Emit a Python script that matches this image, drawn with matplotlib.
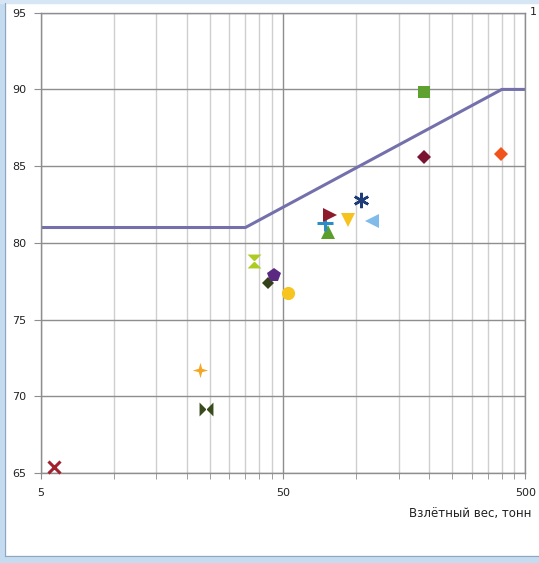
import matplotlib
matplotlib.use("Agg")
import matplotlib.pyplot as plt
import matplotlib.patches as mpatches
from matplotlib.ticker import FixedLocator, NullFormatter, FixedFormatter
import numpy as np

# ---- data ----
weights = [5.7, 22.7, 24.1, 38.0, 43.4, 46.0, 52.4, 76.8, 74.6, 78.2, 92.8, 105.0, 116.6, 191.0, 191.0, 397.0]
noise   = [65.4, 71.7, 69.2, 78.8, 77.4, 77.9, 76.7, 80.7, 81.3, 81.8, 81.5, 82.8, 81.4, 89.8, 85.6, 85.8]

limit_w = [5, 35, 400, 500]
limit_y = [81.0, 81.0, 90.0, 90.0]

x_major = [5, 50, 500]
x_major_labels = ["5", "50", "500"]
x_minor = [10, 15, 20, 25, 30, 35, 40, 45, 100, 150, 200, 250, 300, 350, 400, 450]
y_ticks = [65, 70, 75, 80, 85, 90, 95]
x_title = "Взлётный вес, тонн"
right_label = "1"

# ---- styles ----
bowtie = [(-1, -1), (-1, 1), (1, -1), (1, 1), (-1, -1)]
hourglass = [(-1, 1), (1, 1), (-1, -1), (1, -1), (-1, 1)]
star4 = [(0, 1), (0.22, 0.22), (1, 0), (0.22, -0.22), (0, -1), (-0.22, -0.22), (-1, 0), (-0.22, 0.22), (0, 1)]
styles = [
    dict(marker='x', color='#A3202F', ms=8, mew=2.2),
    dict(marker=star4, color='#F5A623', ms=11, mew=0),
    dict(marker=bowtie, color='#394A1C', ms=10, mew=0),
    dict(marker=hourglass, color='#AECB22', ms=10, mew=0),
    dict(marker='D', color='#34421A', ms=6.5, mew=0),
    dict(marker='p', color='#5A2A82', ms=10, mew=0),
    dict(marker='o', color='#F7C520', ms=9.5, mew=0),
    dict(marker='^', color='#5C9E2C', ms=10, mew=0),
    dict(marker='+', color='#2C8CC6', ms=11, mew=2.2),
    dict(marker='>', color='#8E1A2C', ms=10, mew=0),
    dict(marker='v', color='#F6C31E', ms=10, mew=0),
    dict(marker=(6, 2, 0), color='#1E3C78', ms=11, mew=1.8),
    dict(marker='<', color='#80BBEA', ms=10, mew=0),
    dict(marker='s', color='#5FA131', ms=8.5, mew=0),
    dict(marker='D', color='#7A1232', ms=7.5, mew=0),
    dict(marker='D', color='#F2531A', ms=7.5, mew=0),
]

W, H = 539, 563
fig = plt.figure(figsize=(W / 100, H / 100), dpi=100)
fig.patch.set_facecolor('white')

# window frame
fig.patches.append(mpatches.Rectangle((0, 0), 5 / W, 1, transform=fig.transFigure, color='#C4DBF0', zorder=-1))
fig.patches.append(mpatches.Rectangle((0, 0), 1, 7 / H, transform=fig.transFigure, color='#C4DBF0', zorder=-1))
fig.patches.append(mpatches.Rectangle((0, 1 - 3 / H), 1, 3 / H, transform=fig.transFigure, color='#D6E6F5', zorder=-1))
fig.add_artist(plt.Line2D([5 / W, 5 / W], [7 / H, 1 - 3 / H], transform=fig.transFigure, color='#8FA6BE', lw=0.8))
fig.add_artist(plt.Line2D([5 / W, 1], [7 / H, 7 / H], transform=fig.transFigure, color='#8FA6BE', lw=0.8))

left, right = 40.6 / W, 525.3 / W
bottom, top = (H - 473) / H, (H - 12.7) / H
ax = fig.add_axes([left, bottom, right - left, top - bottom])
ax.set_xscale('log')
ax.set_xlim(5, 500)
ax.set_ylim(65, 95)

ax.xaxis.set_major_locator(FixedLocator(x_major))
ax.xaxis.set_major_formatter(FixedFormatter(x_major_labels))
ax.xaxis.set_minor_locator(FixedLocator(x_minor))
ax.xaxis.set_minor_formatter(NullFormatter())
ax.set_yticks(y_ticks)

for x in x_minor:
    ax.axvline(x, color='#CFCFCF', lw=1.0, zorder=0)
for x in x_major:
    ax.axvline(x, color='#8E8E8E', lw=1.0, zorder=0)
for y in y_ticks:
    ax.axhline(y, color='#8E8E8E', lw=1.0, zorder=0)

for s in ax.spines.values():
    s.set_color('#8E8E8E')
    s.set_linewidth(1.0)

ax.tick_params(axis='both', which='both', colors='#8E8E8E', labelcolor='#222222', labelsize=8)
ax.tick_params(axis='x', which='major', length=4, pad=7)
ax.tick_params(axis='x', which='minor', length=4)
ax.tick_params(axis='y', which='major', length=5, pad=5)

ax.plot(limit_w, limit_y, color='#7470AC', lw=2.2, zorder=2, solid_capstyle='butt')

for xw, yv, st in zip(weights, noise, styles):
    st = dict(st)
    c = st.pop('color')
    ax.plot([xw], [yv], linestyle='none', color=c, mfc=c, mec=c, zorder=3, clip_on=False, **st)

fig.text(409 / W, 1 - 514 / H, x_title, fontsize=8.5, color='#222222', ha='left', va='center')
fig.text(530 / W, 1 - 12 / H, right_label, fontsize=8, color='#222222', ha='left', va='center')

fig.savefig('out.png', dpi=100)
